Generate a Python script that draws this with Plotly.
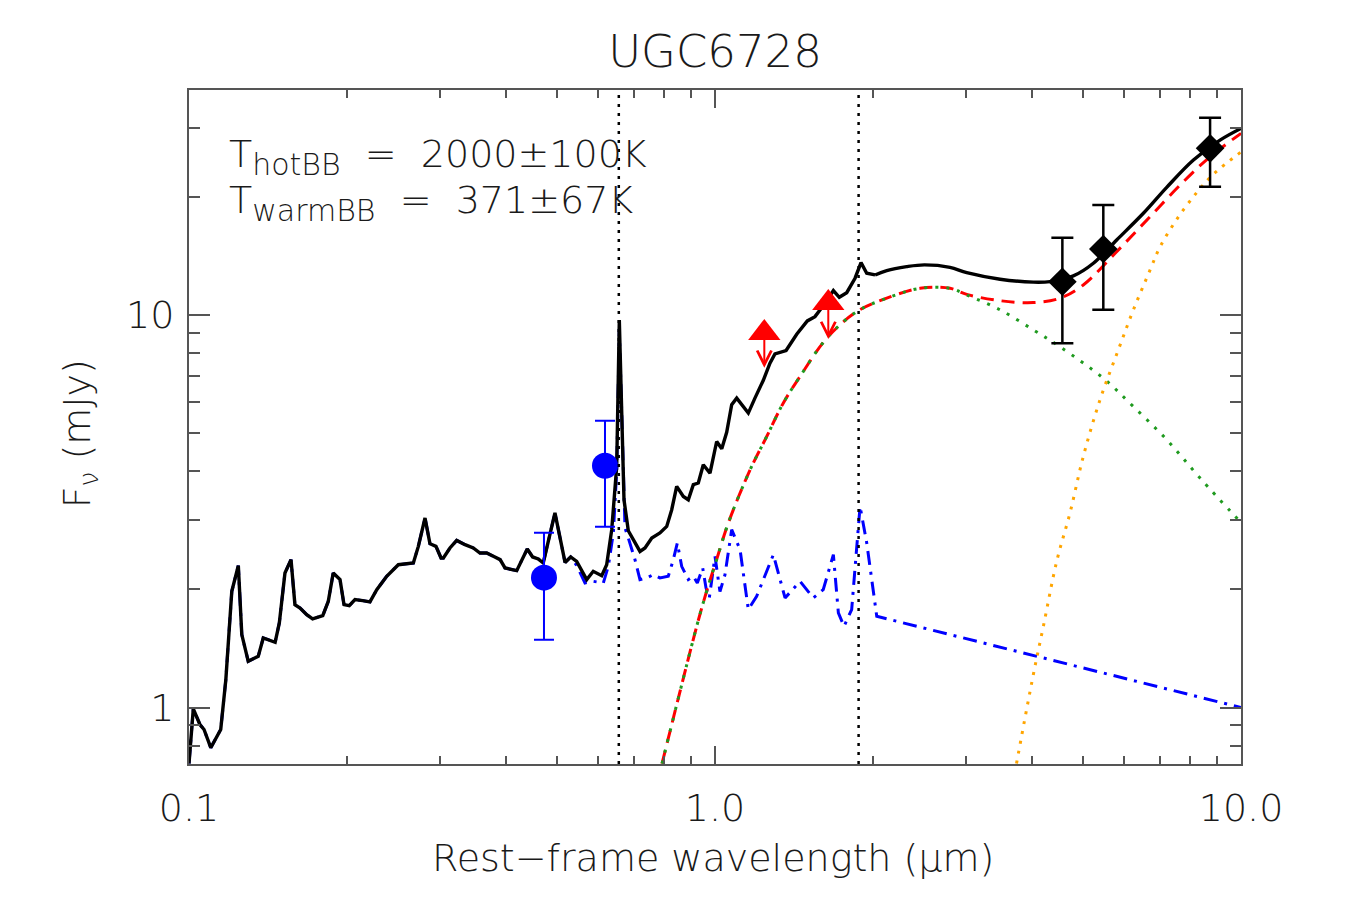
import math
import plotly.graph_objects as go

# ---------------- data ----------------
# total model (stellar template + hot BB + warm BB), rest-frame wavelength in micron, flux in mJy
wl_total = [0.1000, 0.1019, 0.1049, 0.1068, 0.1100, 0.1149, 0.1175, 0.1206, 0.1241, 0.1260,
            0.1296, 0.1354, 0.1384, 0.1458, 0.1485, 0.1522, 0.1563, 0.1590, 0.1626, 0.1674,
            0.1718, 0.1796, 0.1840, 0.1880, 0.1937, 0.1971, 0.2017, 0.2068, 0.2139, 0.2208,
            0.2275, 0.2376, 0.2500, 0.2670, 0.2729, 0.2810, 0.2871, 0.2948, 0.3014, 0.3045,
            0.3134, 0.3228, 0.3348, 0.3471, 0.3574, 0.3681, 0.3790, 0.3904, 0.3988, 0.4198,
            0.4396, 0.4501, 0.4613, 0.4715, 0.4963, 0.5187, 0.5316, 0.5458, 0.5703, 0.5869,
            0.6090, 0.6224, 0.6363, 0.6503, 0.6578, 0.6646, 0.6714, 0.6842, 0.6994, 0.7201,
            0.7360, 0.7582, 0.7858, 0.8095, 0.8274, 0.8456, 0.8705, 0.8897, 0.9094, 0.9295,
            0.9500, 0.9783, 1.0074, 1.0300, 1.0525, 1.0758, 1.0997, 1.1570, 1.1910, 1.2350,
            1.2720, 1.3000, 1.3650, 1.4300, 1.4980, 1.5490, 1.6190, 1.6790, 1.7230, 1.7800,
            1.8460, 1.8950, 1.9430, 2.0150, 2.1210, 2.3140, 2.5000, 2.7970, 3.0100, 3.4830,
            4.0290, 4.3350, 4.8000, 5.2400, 5.8030, 6.5220, 7.2240, 8.1200, 9.1230, 10.000]
f_total = [0.720, 0.992, 0.905, 0.879, 0.790, 0.879, 1.178, 1.977, 2.298, 1.534,
           1.311, 1.350, 1.504, 1.466, 1.643, 2.201, 2.380, 1.828, 1.793, 1.724,
           1.682, 1.714, 1.864, 2.201, 2.117, 1.828, 1.817, 1.883, 1.872, 1.858,
           1.996, 2.159, 2.311, 2.334, 2.573, 3.039, 2.614, 2.573, 2.404, 2.404,
           2.549, 2.665, 2.599, 2.549, 2.475, 2.475, 2.427, 2.380, 2.267, 2.232,
           2.534, 2.418, 2.390, 2.334, 3.130, 2.342, 2.418, 2.357, 2.117, 2.223,
           2.167, 2.311, 2.838, 4.111, 9.710, 5.510, 3.382, 2.820, 2.676, 2.498,
           2.549, 2.703, 2.783, 2.893, 3.190, 3.657, 3.449, 3.382, 3.694, 3.731,
           4.153, 3.955, 4.760, 4.561, 5.023, 5.902, 6.138, 5.623, 6.138, 6.806,
           7.537, 7.958, 8.114, 8.930, 9.654, 9.900, 10.71, 11.53, 11.09, 11.39,
           12.40, 13.59, 12.77, 12.64, 12.97, 13.27, 13.41, 13.22, 12.81, 12.33,
           12.12, 12.16, 12.57, 13.54, 15.52, 18.15, 21.13, 24.80, 27.88, 29.86]

# stellar template beyond the part hidden below the total model
wl_star = [0.5458, 0.5661, 0.5869, 0.6133, 0.6268, 0.6408, 0.6503, 0.6578, 0.6646, 0.6744,
           0.6842, 0.7045, 0.7201, 0.7414, 0.7634, 0.7858, 0.8150, 0.8332, 0.8480, 0.8643,
           0.8897, 0.9094, 0.9255, 0.9476, 0.9614, 0.9754, 1.0000, 1.0220, 1.0447, 1.0758,
           1.1160, 1.1570, 1.2000, 1.2910, 1.3590, 1.4510, 1.5380, 1.6060, 1.6790, 1.7160,
           1.7590, 1.8190, 1.8870, 1.9430, 2.0300, 10.000]
f_star = [2.300, 2.076, 2.096, 2.076, 2.288, 2.783, 4.000, 9.200, 5.410, 2.866,
          2.703, 2.380, 2.117, 2.138, 2.180, 2.138, 2.159, 2.380, 2.625, 2.288,
          2.117, 2.159, 2.076, 2.267, 2.017, 1.902, 2.427, 1.973, 2.180, 2.838,
          2.523, 1.776, 1.920, 2.451, 1.902, 2.096, 1.902, 1.996, 2.451, 1.742,
          1.610, 1.776, 3.253, 2.625, 1.708, 1.000]

# hot blackbody (T = 2000 K)
wl_hot = [0.793, 0.923, 0.964, 1.007, 1.060, 1.166, 1.254, 1.348, 1.451, 1.631,
          1.859, 2.121, 2.454, 2.797, 3.010, 3.483, 4.029, 4.529, 5.473, 6.243,
          7.224, 8.360, 10.00]
f_hot = [0.720, 1.610, 1.977, 2.380, 2.951, 4.030, 4.900, 5.960, 6.970, 8.720,
         10.19, 11.03, 11.69, 11.69, 11.24, 10.30, 9.160, 8.290, 6.900, 5.840,
         4.810, 3.840, 2.957]

# warm blackbody (T = 371 K)
wl_warm = [3.743, 4.029, 4.210, 4.463, 4.730, 5.014, 5.395, 5.845, 6.243, 6.714,
           7.015, 7.546, 8.238, 8.857, 10.00]
f_warm = [0.720, 1.213, 1.610, 2.357, 3.130, 4.360, 6.080, 8.150, 10.30, 13.00,
          14.90, 17.50, 20.50, 22.80, 26.00]

# hot + warm blackbody
wl_bb = [0.793, 0.923, 0.964, 1.007, 1.060, 1.166, 1.254, 1.348, 1.451, 1.631,
         1.859, 2.121, 2.454, 2.797, 3.010, 3.483, 4.029, 4.529, 5.014, 5.803,
         6.714, 7.770, 8.734, 10.00]
f_bb = [0.720, 1.610, 1.977, 2.380, 2.951, 4.030, 4.900, 5.960, 6.970, 8.720,
        10.19, 11.03, 11.69, 11.69, 11.28, 10.87, 10.75, 11.03, 11.92, 14.49,
        17.79, 21.84, 25.28, 29.00]

# photometry
opt_wl = [0.4730, 0.6178]
opt_f = [2.142, 4.128]
opt_hi = [2.788, 5.374]
opt_lo = [1.489, 2.887]

ir_wl = [4.575, 5.473, 8.734]
ir_f = [12.15, 14.72, 26.56]
ir_hi = [15.73, 19.05, 31.77]
ir_lo = [8.47, 10.30, 21.21]

ul_wl = [1.241, 1.642]
ul_f = [9.00, 10.73]
ul_tip = [7.33, 8.68]

lines_wl = [0.6563, 1.875]          # H-alpha, Pa-alpha

x_ticks = [0.1, 1.0, 10.0]
x_ticktext = ["0.1", "1.0", "10.0"]
y_ticks = [1, 10]
y_ticktext = ["1", "10"]
x_minor = [0.2, 0.3, 0.4, 0.5, 0.6, 0.7, 0.8, 0.9, 2, 3, 4, 5, 6, 7, 8, 9]
y_minor = [0.8, 0.9, 2, 3, 4, 5, 6, 7, 8, 9, 20, 30]
y_range = [0.718, 37.4]

title = "UGC6728"
SP = "\u00a0"
temp_lines = ["T<sub><span style='font-size:30px'>hotBB</span></sub>" + SP * 2 + "=" + SP * 2 + "2000±100K",
              "T<sub><span style='font-size:30px'>warmBB</span></sub>" + SP * 2 + "=" + SP * 2 + "371±67K"]

# ---------------- figure ----------------
FONT = "DejaVu Sans"
AX = "#555555"
TXT = "#1a1a1a"
fig = go.Figure()

n_shared = next(i for i, w in enumerate(wl_total) if w >= wl_star[0])
fig.add_trace(go.Scatter(x=wl_total[:n_shared] + wl_star, y=f_total[:n_shared] + f_star,
                         mode="lines", line=dict(color="#0000ff", width=3, dash="14px,7px,3px,7px"),
                         showlegend=False))
fig.add_trace(go.Scatter(x=wl_bb, y=f_bb, mode="lines", line_shape="spline",
                         line=dict(color="#ff0000", width=3, dash="13px,8px"), showlegend=False))
fig.add_trace(go.Scatter(x=wl_hot, y=f_hot, mode="lines", line_shape="spline",
                         line=dict(color="#1f9a1f", width=3, dash="3px,8px"), showlegend=False))
fig.add_trace(go.Scatter(x=wl_warm, y=f_warm, mode="lines", line_shape="spline",
                         line=dict(color="#ffa500", width=3, dash="3px,7px"), showlegend=False))

split = next(i for i, w in enumerate(wl_total) if w >= 2.0)
fig.add_trace(go.Scatter(x=wl_total[:split + 1], y=f_total[:split + 1], mode="lines",
                         line=dict(color="black", width=3.4), showlegend=False))
fig.add_trace(go.Scatter(x=wl_total[split:], y=f_total[split:], mode="lines", line_shape="spline",
                         line=dict(color="black", width=3.4), showlegend=False))

fig.add_trace(go.Scatter(
    x=opt_wl, y=opt_f, mode="markers",
    marker=dict(symbol="circle", size=26, color="#0000ff"),
    error_y=dict(type="data", symmetric=False,
                 array=[h - f for h, f in zip(opt_hi, opt_f)],
                 arrayminus=[f - l for f, l in zip(opt_f, opt_lo)],
                 color="#0000ff", thickness=2, width=10),
    showlegend=False))

fig.add_trace(go.Scatter(
    x=ir_wl, y=ir_f, mode="markers",
    marker=dict(symbol="diamond", size=22, color="black"),
    error_y=dict(type="data", symmetric=False,
                 array=[h - f for h, f in zip(ir_hi, ir_f)],
                 arrayminus=[f - l for f, l in zip(ir_f, ir_lo)],
                 color="black", thickness=2.5, width=11),
    showlegend=False))

annotations = []
for w, f, t in zip(ul_wl, ul_f, ul_tip):
    annotations.append(dict(x=math.log10(w), y=math.log10(t), xref="x", yref="y",
                            ax=math.log10(w), ay=math.log10(f), axref="x", ayref="y",
                            text="", showarrow=True, arrowhead=5, arrowsize=1.4,
                            arrowwidth=2, arrowcolor="#ff0000", standoff=0, startstandoff=0))
fig.add_trace(go.Scatter(x=ul_wl, y=ul_f, mode="markers",
                         marker=dict(symbol="triangle-up", size=28, color="#ff0000"),
                         showlegend=False))

shapes = []
for w in lines_wl:
    shapes.append(dict(type="line", xref="x", yref="paper", x0=w, x1=w,
                       y0=0, y1=1, line=dict(color="black", width=2.5, dash="3px,6px")))

tf = dict(family=FONT, size=38, color=TXT, weight=200)
annotations.append(dict(text=temp_lines[0], xref="paper", yref="paper", x=0.036, y=0.941,
                        xanchor="left", yanchor="top", showarrow=False, font=tf))
annotations.append(dict(text=temp_lines[1], xref="paper", yref="paper", x=0.036, y=0.873,
                        xanchor="left", yanchor="top", showarrow=False, font=tf))
annotations.append(dict(text="Rest\u2212frame" + SP + "wavelength" + SP + "(μm)", xref="paper", yref="paper",
                        x=0.4985, y=-0.14, xanchor="center", yanchor="middle", showarrow=False, font=tf))
annotations.append(dict(text="F<sub>ν</sub>" + SP + "(mJy)", xref="paper", yref="paper",
                        x=-0.104, y=0.49, xanchor="center", yanchor="middle", textangle=-90,
                        showarrow=False, font=tf))

axis_common = dict(type="log", ticks="inside", tickcolor=AX, tickwidth=1.5,
                   showline=True, linecolor=AX, linewidth=2, mirror="ticks",
                   showgrid=False, zeroline=False, tickfont=tf)

fig.update_layout(
    width=1350, height=900,
    margin=dict(l=189, r=109, t=90, b=136),
    paper_bgcolor="white", plot_bgcolor="white",
    title=dict(text=title, x=0.5, xref="paper", xanchor="center", y=0.943, yanchor="middle",
               font=dict(family=FONT, size=45, color=TXT, weight=200)),
    xaxis=dict(axis_common, range=[math.log10(x_ticks[0]), math.log10(x_ticks[-1])],
               tickmode="array", tickvals=x_ticks, ticktext=x_ticktext, ticklen=18,
               ticklabelstandoff=9,
               minor=dict(tickmode="array", tickvals=x_minor, ticks="inside", ticklen=8,
                          tickwidth=1.5, tickcolor=AX, showgrid=False)),
    yaxis=dict(axis_common, range=[math.log10(y_range[0]), math.log10(y_range[1])],
               tickmode="array", tickvals=y_ticks, ticktext=y_ticktext, ticklen=21,
               ticklabelstandoff=5,
               minor=dict(tickmode="array", tickvals=y_minor, ticks="inside", ticklen=11,
                          tickwidth=1.5, tickcolor=AX, showgrid=False)),
    annotations=annotations,
    shapes=shapes,
)

fig.write_html("out.html")
